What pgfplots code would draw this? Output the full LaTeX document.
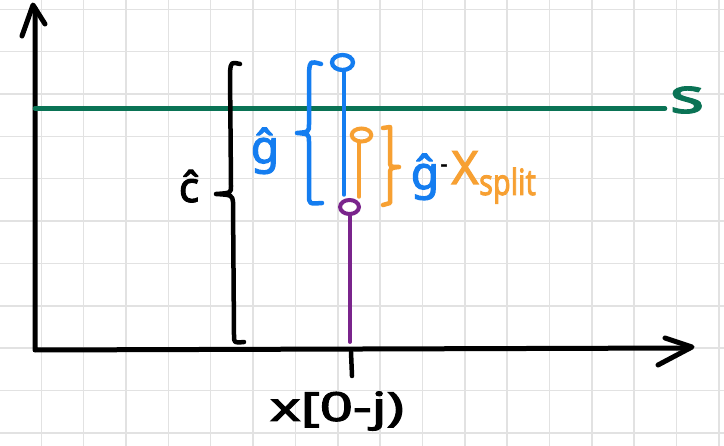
\documentclass[border=0pt]{standalone}
\usepackage{pgfplots}
\pgfplotsset{compat=1.18}
\usepackage{fontspec}
\setmainfont{Noto Sans}[BoldFont={Noto Sans}, BoldFeatures={FakeBold=2.5}]
\definecolor{myblue}{RGB}{20,125,240}
\definecolor{myorange}{RGB}{247,160,50}
\definecolor{mypurple}{RGB}{122,36,140}
\definecolor{mygreen}{RGB}{10,115,85}
\definecolor{gridgray}{RGB}{226,226,226}
\begin{document}
\begin{tikzpicture}
\begin{axis}[name=ax, x=1bp, y=1bp, y dir=reverse,
  xmin=0, xmax=724, ymin=0, ymax=446,
  axis line style={draw=none},
  xtick={41.3,83.7,126,168.4,210.7,253.1,295.4,337.8,380.1,422.5,464.8,507.2,549.5,591.9,634.2,676.6,718.9},
  ytick={9.3,51.7,94.0,136.4,178.7,221.1,263.4,305.8,348.1,390.5,432.8},
  xticklabels={}, yticklabels={}, major tick length=0pt,
  grid=major, grid style={color=gridgray, line width=1.5bp},
  clip=false, axis background/.style={fill=white}]
% hand-drawn axes
\draw[black, line width=5bp, line cap=round, line join=round] (axis cs:35,8) -- (axis cs:35,350) -- (axis cs:690,348);
\draw[black, line width=5bp, line cap=round, line join=round] (axis cs:22,36) -- (axis cs:33,5) -- (axis cs:45,24);
\draw[black, line width=5bp, line cap=round, line join=round] (axis cs:665,338) -- (axis cs:692,347) -- (axis cs:658,365);
\draw[black, line width=4.5bp, line cap=round] (axis cs:351,352) -- (axis cs:352,376);
% threshold s
\addplot[mygreen, line width=4.5bp, line cap=round] coordinates {(35,108.5) (665,108.5)};
% stems
\addplot[mypurple, line width=3.8bp, line cap=round] coordinates {(350,342) (350,216)};
\addplot[only marks, mark=o, mark size=7bp, mark options={draw=mypurple, xscale=1.35, line width=4bp}] coordinates {(349.5,207)};
\addplot[myblue, line width=3.5bp, line cap=round] coordinates {(344,195) (344,71)};
\addplot[only marks, mark=o, mark size=7.5bp, mark options={draw=myblue, xscale=1.4, line width=4.3bp}] coordinates {(342.5,62.5)};
\addplot[myorange, line width=3.5bp, line cap=round] coordinates {(359,197) (359,142)};
\addplot[only marks, mark=o, mark size=6.5bp, mark options={draw=myorange, xscale=1.5, line width=4bp}] coordinates {(361.5,135)};
% braces
\draw[black, line width=4.5bp, line cap=round, line join=round]
  (axis cs:240,64) .. controls (axis cs:231,62) .. (axis cs:230,72) -- (axis cs:231,186)
  .. controls (axis cs:231,193) .. (axis cs:216,194) .. controls (axis cs:232,195) .. (axis cs:233,202)
  -- (axis cs:234,335) .. controls (axis cs:234,343) .. (axis cs:244,342);
\draw[myblue, line width=4.5bp, line cap=round, line join=round]
  (axis cs:321,64) .. controls (axis cs:310,61) .. (axis cs:309,72) -- (axis cs:309,124)
  .. controls (axis cs:309,132) .. (axis cs:297,133) .. controls (axis cs:309,134) .. (axis cs:309,142)
  -- (axis cs:309,195) .. controls (axis cs:309,204) .. (axis cs:322,203);
\draw[myorange, line width=4.5bp, line cap=round, line join=round]
  (axis cs:383,128) -- (axis cs:390,127) -- (axis cs:390,161)
  .. controls (axis cs:390,167) .. (axis cs:399,167) .. controls (axis cs:390,168) .. (axis cs:390,175)
  -- (axis cs:390,203) -- (axis cs:383,205);
% labels
\node[anchor=center, xscale=1.45, font=\bfseries\fontsize{40bp}{40bp}\selectfont] at (axis cs:337,411) {x[0-j)};
\node[anchor=center, xscale=1.5, text=mygreen, font=\bfseries\fontsize{48bp}{48bp}\selectfont] at (axis cs:687,100) {s};
\node[anchor=base, font=\bfseries\fontsize{42bp}{42bp}\selectfont] at (axis cs:189,202) {ĉ};
\node[anchor=base, text=myblue, font=\bfseries\fontsize{46bp}{46bp}\selectfont] at (axis cs:265,163) {ĝ};
\node[anchor=base, text=myblue, font=\bfseries\fontsize{46bp}{46bp}\selectfont] at (axis cs:425,189) {ĝ};
\node[anchor=center, font=\bfseries\fontsize{22bp}{22bp}\selectfont] at (axis cs:444,168) {-};
\node[anchor=base, text=myorange, font=\bfseries\fontsize{46bp}{46bp}\selectfont] at (axis cs:465,184) {X};
\node[anchor=base west, inner sep=0pt, xscale=0.8, text=myorange, font=\bfseries\fontsize{36bp}{36bp}\selectfont] at (axis cs:479,195) {split};
\end{axis}
\pgfresetboundingbox
\useasboundingbox (ax.south west) rectangle (ax.north east);
\end{tikzpicture}
\end{document}
